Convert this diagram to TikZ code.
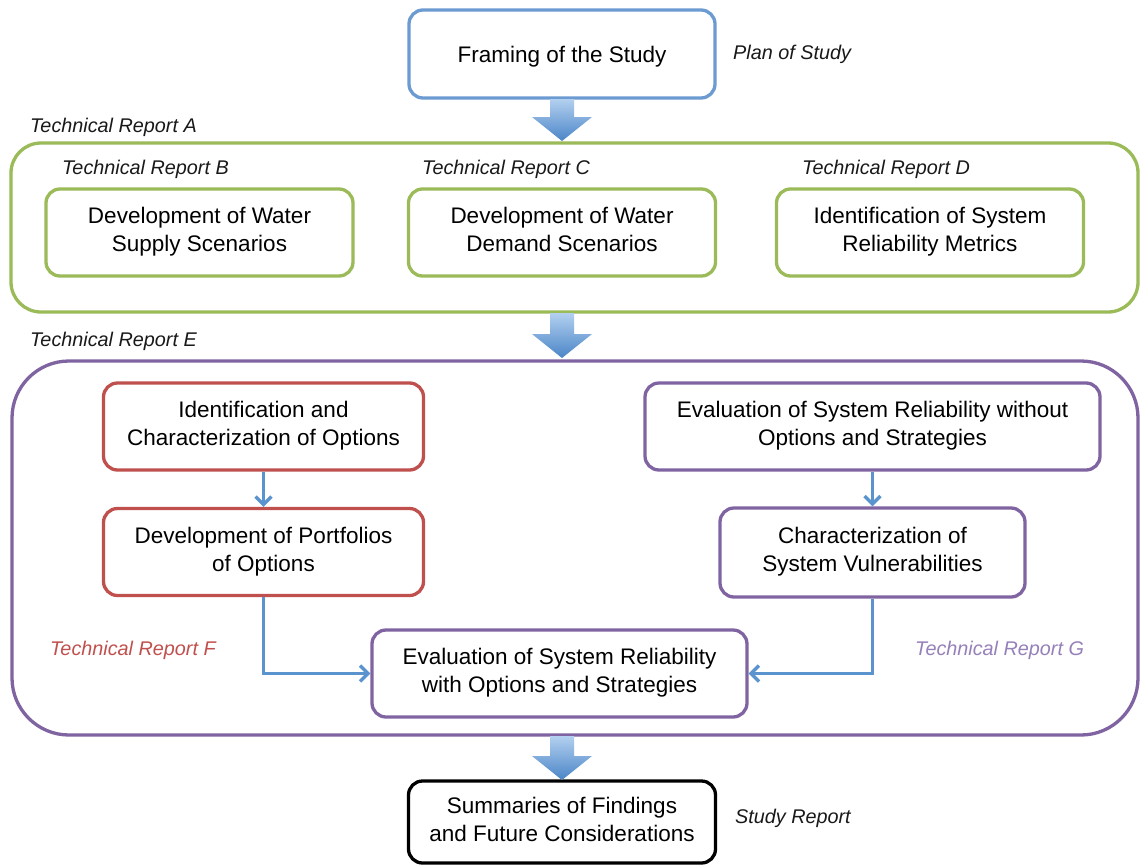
\documentclass[tikz,border=0pt]{standalone}
\usepackage{fontspec}
\setmainfont{Liberation Sans}
\usetikzlibrary{arrows.meta,calc}
\definecolor{cblue}{HTML}{6C9BD2}
\definecolor{cgreen}{HTML}{9BBB59}
\definecolor{cred}{HTML}{C0504D}
\definecolor{cpurple}{HTML}{8064A2}
\definecolor{lpurple}{HTML}{9680BA}
\definecolor{carrow}{HTML}{5B93CF}
\definecolor{atop}{HTML}{B3D0F0}
\definecolor{abot}{HTML}{4A85C7}
\begin{document}
\begin{tikzpicture}[x=1pt,y=-1pt,
  box/.style={draw,line width=3.3pt,rounded corners=14pt,fill=white,align=center,
    inner sep=0pt,font=\fontsize{22.5}{28}\selectfont,text=black,
    execute at begin node={\rule{0pt}{22pt}},
    execute at end node={\rule[-6pt]{0pt}{6pt}}},
  lbl/.style={font=\fontsize{19.8}{22}\selectfont\itshape,anchor=west,inner sep=0pt,text=black!90},
  flow/.style={draw=carrow,line width=3.3pt,-{Straight Barb[length=8pt,width=16pt,line width=3.3pt]}},
  bigarrow/.style={top color=atop,bottom color=abot,draw=none}
]
\useasboundingbox (0,0) rectangle (1140,865);
\fill[white] (0,0) rectangle (1140,865);

% containers
\draw[cgreen,line width=3.3pt,rounded corners=30pt] (11,143) rectangle (1138,312);
\draw[cpurple,line width=3.3pt,rounded corners=57pt] (12,361) rectangle (1138,735);

% nodes
\node[box,draw=cblue,minimum width=306pt,minimum height=88pt] (frame) at (562,54) {Framing of the Study};
\node[lbl] (plan) at (733,54) {Plan of Study};

\node[lbl] (tra) at (30,127) {Technical Report A};
\node[lbl] (trb) at (62,169) {Technical Report B};
\node[lbl] (trc) at (422,169) {Technical Report C};
\node[lbl] (trd) at (802,169) {Technical Report D};

\node[box,draw=cgreen,minimum width=307pt,minimum height=87pt] (b) at (199.5,232.5) {Development of Water\\Supply Scenarios};
\node[box,draw=cgreen,minimum width=307pt,minimum height=87pt] (c) at (562,232.5) {Development of Water\\Demand Scenarios};
\node[box,draw=cgreen,minimum width=307pt,minimum height=87pt] (d) at (930,232.5) {Identification of System\\Reliability Metrics};

\node[lbl] (tre) at (30,341) {Technical Report E};

\node[box,draw=cred,minimum width=320pt,minimum height=87pt] (r1) at (263.5,426.5) {Identification and\\Characterization of Options};
\node[box,draw=cred,minimum width=320pt,minimum height=87pt] (r2) at (263.5,552) {Development of Portfolios\\of Options};
\node[box,draw=cpurple,minimum width=455pt,minimum height=87pt] (p1) at (872.5,426.5) {Evaluation of System Reliability without\\Options and Strategies};
\node[box,draw=cpurple,minimum width=305pt,minimum height=89pt] (p2) at (872.5,552.5) {Characterization of\\System Vulnerabilities};
\node[box,draw=cpurple,minimum width=375pt,minimum height=87pt] (ev) at (559.5,673.5) {Evaluation of System Reliability\\with Options and Strategies};

\node[lbl,text=cred] (trf) at (50,650) {Technical Report F};
\node[lbl,text=lpurple] (trg) at (915,650) {Technical Report G};

\node[box,draw=black,minimum width=307pt,minimum height=82pt] (sum) at (562,822) {Summaries of Findings\\and Future Considerations};
\node[lbl] (srep) at (735,818) {Study Report};

% flow arrows
\draw[flow] (r1.south) -- (r2.north);
\draw[flow] (p1.south) -- (p2.north);
\draw[flow] (r2.south) |- (ev.west);
\draw[flow] (p2.south) |- (ev.east);

% big arrows
\coordinate (a1) at (562,99);
\coordinate (a2) at (562,313);
\coordinate (a3) at (562,736);
\foreach \c/\len in {a1/42,a2/45,a3/44}{
  \path[bigarrow] ($(\c)+(-12,0)$) -- ++(24,0) -- ++(0,\len-24) -- ++(18,0)
    -- ($(\c)+(0,\len)$) -- ($(\c)+(-30,\len-24)$) -- ++(18,0) -- cycle;
}
\end{tikzpicture}
\end{document}
